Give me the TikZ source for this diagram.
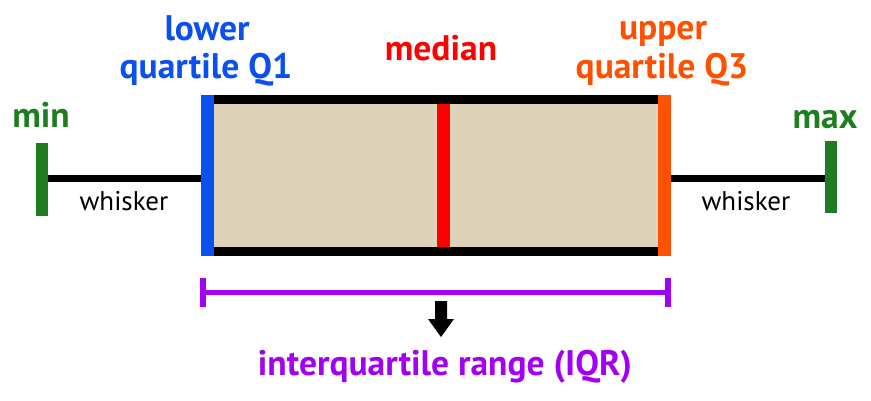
\documentclass[tikz,border=0pt]{standalone}
\usepackage{fontspec}
\setmainfont{PT Sans}
\definecolor{cblue}{HTML}{0A50F0}
\definecolor{cgreen}{HTML}{1E7D1E}
\definecolor{cred}{HTML}{FF0000}
\definecolor{corange}{HTML}{FF5000}
\definecolor{cpurple}{HTML}{A100F5}
\definecolor{cbeige}{HTML}{DDD3B8}
\begin{document}
\begin{tikzpicture}[x=1pt,y=-1pt,
  lbl/.style={font=\fontsize{35.5}{40}\selectfont\bfseries, anchor=base, inner sep=0pt, align=center},
  wlbl/.style={font=\fontsize{27}{31}\selectfont, anchor=base, inner sep=0pt},
  bar/.style={line cap=butt},
  wline/.style={line width=7pt, black}]
\useasboundingbox (0,0) rectangle (871,400);
% box
\fill[cbeige] (214,104) rectangle (658,247);
\draw[line width=9pt, bar] (214,99.5) -- (658,99.5);
\draw[line width=9pt, bar] (214,251.5) -- (658,251.5);
\coordinate (q1t) at (207.5,95); \coordinate (q1b) at (207.5,256);
\coordinate (q3t) at (664.5,95); \coordinate (q3b) at (664.5,256);
\coordinate (medt) at (443,104); \coordinate (medb) at (443,247);
\draw[cred, line width=13pt, bar] (medt) -- (medb);
% whiskers
\coordinate (minc) at (42,178.5); \coordinate (q1c) at (201,178.5);
\coordinate (maxc) at (830.5,178.5); \coordinate (q3c) at (671,178.5);
\draw[wline] (minc) -- (q1c);
\draw[wline] (q3c) -- (maxc);
\draw[cblue, line width=13pt, bar] (q1t) -- (q1b);
\draw[corange, line width=13pt, bar] (q3t) -- (q3b);
\coordinate (mint) at (42,143); \coordinate (minb) at (42,216);
\coordinate (maxt) at (830.5,141); \coordinate (maxb) at (830.5,213);
\draw[cgreen, line width=12pt, bar] (mint) -- (minb);
\draw[cgreen, line width=12pt, bar] (maxt) -- (maxb);
% labels
\node[lbl, text=cblue] (lower) at (207,40) {lower};
\node[lbl, text=cblue] (q1) at (206,78) {quartile Q1};
\node[lbl, text=cred] (median) at (441,60) {median};
\node[lbl, text=corange] (upper) at (663,39) {upper};
\node[lbl, text=corange] (q3) at (662,78) {quartile Q3};
\node[lbl, text=cgreen] (min) at (41,127) {min};
\node[lbl, text=cgreen] (max) at (825,128) {max};
\node[wlbl] (w1) at (124,210) {whisker};
\node[wlbl] (w2) at (746,210) {whisker};
% IQR bracket
\coordinate (il) at (203,292); \coordinate (ir) at (668,292);
\coordinate (ilt) at (203,278); \coordinate (ilb) at (203,307);
\coordinate (irt) at (668,278); \coordinate (irb) at (668,307);
\draw[cpurple, line width=5pt] (il) -- (ir);
\draw[cpurple, line width=6pt, bar] (ilt) -- (ilb);
\draw[cpurple, line width=6pt, bar] (irt) -- (irb);
% arrow
\fill[black] (435,301) -- (447,301) -- (447,319) -- (454,319) -- (441,337) -- (428,319) -- (435,319) -- cycle;
\node[lbl, text=cpurple] (iqr) at (445,375) {interquartile range (IQR)};
\end{tikzpicture}
\end{document}
